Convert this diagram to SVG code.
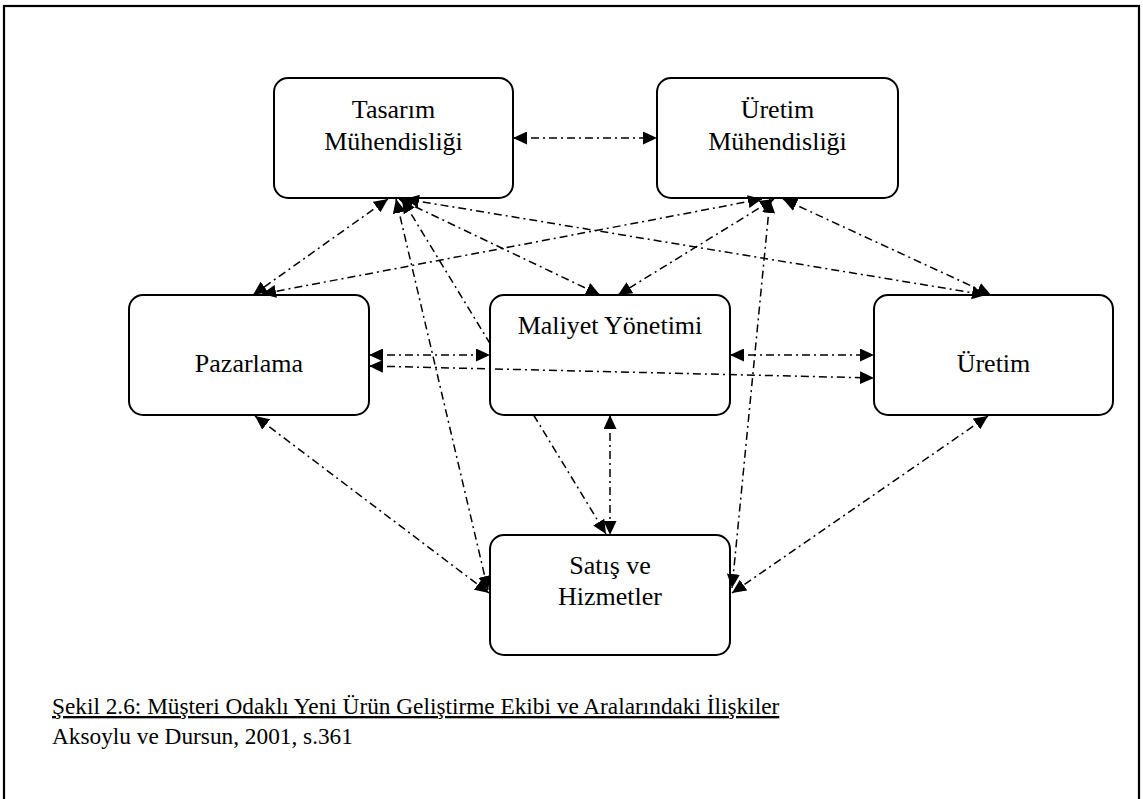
<svg xmlns="http://www.w3.org/2000/svg" width="1143" height="799" viewBox="0 0 1143 799">
  <style>
    .frame { fill: #fff; stroke: #000; stroke-width: 2.2; }
    .box { fill: #fff; stroke: #000; stroke-width: 2; }
    .lbl { font-family: "Liberation Serif", "Times New Roman", serif; font-size: 26px; fill: #000; text-anchor: middle; }
    .cap { font-family: "Liberation Serif", "Times New Roman", serif; font-size: 23.3px; fill: #000; }
    .link { fill: none; stroke: #000; stroke-width: 1.5; stroke-dasharray: 8 4 2 4; }
    .both { marker-start: url(#head); marker-end: url(#head); }
  </style>
  <defs>
    <marker id="head" markerUnits="userSpaceOnUse" markerWidth="15" markerHeight="13" refX="14" refY="6.5" orient="auto-start-reverse">
      <path d="M0,0 L14,6.5 L0,13 z" fill="#000"/>
    </marker>
  </defs>

  <!-- outer frame -->
  <rect class="frame" x="4" y="6" width="1135" height="810"/>

  <!-- team members -->
  <g id="node-tasarim">
    <rect class="box" x="274" y="78" width="239" height="120" rx="14"/>
    <text class="lbl" x="393.5" y="118">Tasarım</text>
    <text class="lbl" x="393.5" y="150">Mühendisliği</text>
  </g>
  <g id="node-uretim-muh">
    <rect class="box" x="657" y="78" width="241" height="120" rx="14"/>
    <text class="lbl" x="777.5" y="118">Üretim</text>
    <text class="lbl" x="777.5" y="150">Mühendisliği</text>
  </g>
  <g id="node-pazarlama">
    <rect class="box" x="129" y="295" width="240" height="120" rx="14"/>
    <text class="lbl" x="249" y="372">Pazarlama</text>
  </g>
  <g id="node-maliyet">
    <rect class="box" x="490" y="295" width="240" height="120" rx="14"/>
    <text class="lbl" x="610" y="334">Maliyet Yönetimi</text>
  </g>
  <g id="node-uretim">
    <rect class="box" x="874" y="295" width="239" height="120" rx="14"/>
    <text class="lbl" x="993.5" y="372">Üretim</text>
  </g>
  <g id="node-satis">
    <rect class="box" x="490" y="535" width="240" height="120" rx="14"/>
    <text class="lbl" x="610" y="574">Satış ve</text>
    <text class="lbl" x="610" y="605">Hizmetler</text>
  </g>

  <!-- relations (dash-dot, two-way) -->
  <g id="connectors">
    <path class="link both" d="M513,138 L657,138"/>
    <path class="link both" d="M388,199 L253,295"/>
    <path class="link both" d="M762,199 L262,294"/>
    <path class="link both" d="M399,199 L600,295"/>
    <path class="link both" d="M774,199 L618,295"/>
    <path class="link both" d="M405,199 L986,295"/>
    <path class="link both" d="M783,199 L991,295"/>
    <path class="link both" d="M396,199 L488,590"/>
    <!-- Tasarım to Satış top, passing behind Maliyet -->
    <path class="link" style="marker-start:url(#head)" d="M402,199 L490,343.5"/>
    <path class="link" style="marker-end:url(#head)" d="M533.6,415 L606,534"/>
    <path class="link both" d="M770,199 L732,588"/>
    <path class="link both" d="M369,355 L490,355"/>
    <path class="link both" d="M369,366 L874,378"/>
    <path class="link both" d="M730,355 L874,355"/>
    <path class="link both" d="M610,415 L610,535"/>
    <path class="link both" d="M255,416 L489,593"/>
    <path class="link both" d="M988,416 L732,593"/>
  </g>

  <!-- caption -->
  <g id="caption">
    <text class="cap" x="52" y="714" text-decoration="underline">Şekil 2.6: Müşteri Odaklı Yeni Ürün Geliştirme Ekibi ve Aralarındaki İlişkiler</text>
    <text class="cap" x="52" y="744">Aksoylu ve Dursun, 2001, s.361</text>
  </g>
</svg>
